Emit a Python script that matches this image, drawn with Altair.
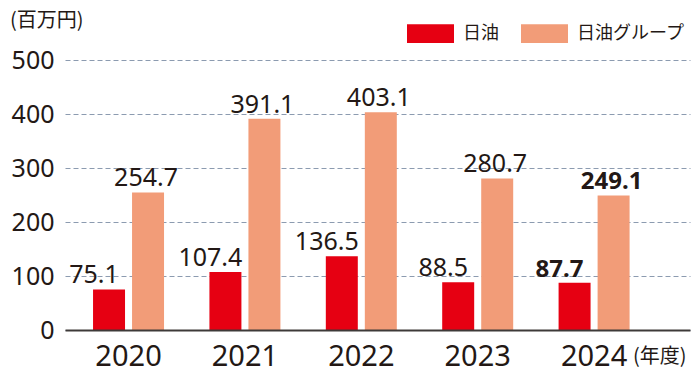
import altair as alt
import pandas as pd

years = ["2020", "2021", "2022", "2023", "2024"]
nof = [75.1, 107.4, 136.5, 88.5, 87.7]
group = [254.7, 391.1, 403.1, 280.7, 249.1]
series_names = ["日油", "日油グループ"]
colors = ["#E60012", "#F29C78"]
y_ticks = [0, 100, 200, 300, 400, 500]
unit_label = "(百万円)"
year_label = "(年度)"

rows = []
for y, a, b in zip(years, nof, group):
    rows.append({"year": y, "series": series_names[0], "value": a, "label": f"{a:.1f}"})
    rows.append({"year": y, "series": series_names[1], "value": b, "label": f"{b:.1f}"})
df = pd.DataFrame(rows)

TXT = "#231815"
FONT = "Noto Sans"
JFONT = "Noto Sans CJK JP"

x_scale = alt.Scale(paddingInner=0.39, paddingOuter=0.38, align=0.317)
x_enc = alt.X(
    "year:N",
    sort=years,
    scale=x_scale,
    axis=alt.Axis(
        title=None, labelAngle=0, labelFontSize=29, labelFont=FONT, labelColor=TXT,
        ticks=False, labelPadding=12, domainColor="#3e3a39", domainWidth=2,
        grid=False, zindex=1,
    ),
)
xoff = alt.XOffset("series:N", sort=series_names,
                   scale=alt.Scale(paddingInner=0.18, paddingOuter=0))
y_enc = alt.Y(
    "value:Q",
    scale=alt.Scale(domain=[0, 500], nice=False),
    axis=alt.Axis(
        title=None, values=y_ticks, labelFontSize=25, labelFont=FONT, labelColor=TXT,
        ticks=False, domain=False, labelPadding=11, grid=True,
        gridColor="#8C9BB0", gridDash=[5, 3], gridWidth=1,
    ),
)

base = alt.Chart(df)

bars = base.mark_bar().encode(
    x=x_enc, xOffset=xoff, y=y_enc,
    color=alt.Color(
        "series:N", sort=series_names,
        scale=alt.Scale(domain=series_names, range=colors),
        legend=alt.Legend(
            title=None, orient="none", legendX=342, legendY=-50, direction="horizontal",
            symbolType="M-1,-0.4L1,-0.4L1,0.4L-1,0.4Z", symbolSize=2209,
            symbolStrokeWidth=0, labelFont=JFONT, labelFontSize=18, labelColor=TXT,
            labelOffset=9, columnPadding=22, padding=0,
        ),
    ),
)

def labels(series, dx, bold):
    cond = (alt.datum.year == "2024") if bold else (alt.datum.year != "2024")
    return base.transform_filter(alt.datum.series == series).transform_filter(cond).mark_text(
        baseline="alphabetic", dy=-6, dx=dx, fontSize=24 if bold else 25, font=FONT,
        fontWeight="bold" if bold else "normal", color=TXT,
    ).encode(x=alt.X("year:N", sort=years, scale=x_scale), xOffset=xoff,
             y=alt.Y("value:Q"), text="label:N")

unit = alt.Chart(pd.DataFrame({"t": [unit_label]})).mark_text(
    font=JFONT, fontSize=20, color=TXT, align="left", baseline="alphabetic"
).encode(text="t:N", x=alt.value(-55), y=alt.value(-33))

yr = alt.Chart(pd.DataFrame({"t": [year_label]})).mark_text(
    font=JFONT, fontSize=20, color=TXT, align="left", baseline="alphabetic"
).encode(text="t:N", x=alt.value(568), y=alt.value(36 + 270 - 3))

chart = alt.layer(
    bars,
    labels(series_names[0], -15, False), labels(series_names[0], -15, True),
    labels(series_names[1], -2, False), labels(series_names[1], -2, True),
    unit, yr,
).properties(
    width=625, height=270,
    autosize=alt.AutoSizeParams(type="none"),
    padding={"left": 57, "top": 52, "right": 2, "bottom": 41},
).configure_view(stroke=None)

chart.save("out.html", embed_options={"renderer": "svg", "actions": False})
